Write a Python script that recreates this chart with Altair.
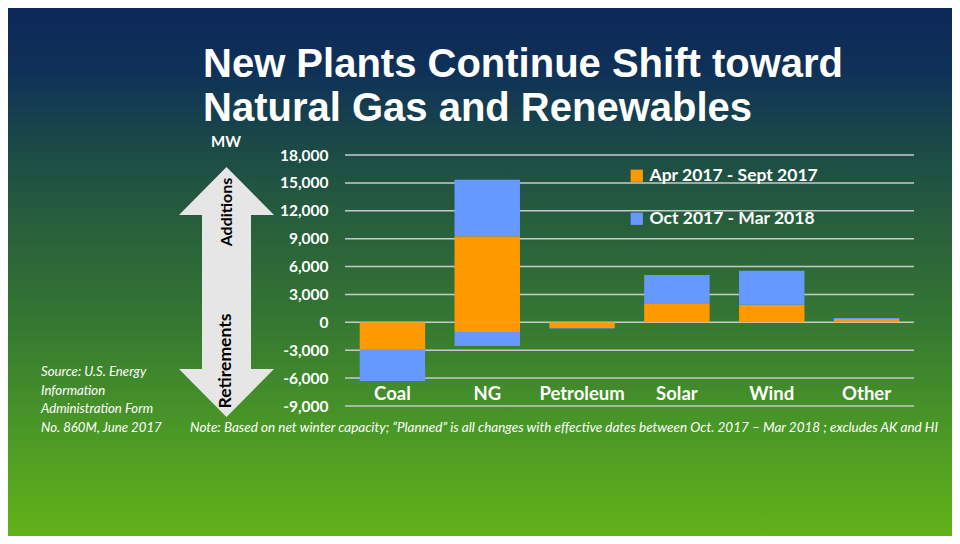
import altair as alt
import pandas as pd

# ---- data ----
categories = ["Coal", "NG", "Petroleum", "Solar", "Wind", "Other"]
periods = ["Apr 2017 - Sept 2017", "Oct 2017 - Mar 2018"]
apr_additions = [0, 9250, 0, 2050, 1900, 350]
apr_retirements = [-2950, -1050, -600, 0, 0, 0]
oct_additions = [0, 6100, 0, 3050, 3650, 120]
oct_retirements = [-3350, -1500, -60, 0, 0, 0]
y_ticks = [-9000, -6000, -3000, 0, 3000, 6000, 9000, 12000, 15000, 18000]
bar_colors = ["#FF9900", "#6699FF"]

title_text = "New Plants Continue Shift toward\nNatural Gas and Renewables"
source_text = ["Source: U.S. Energy", "Information", "Administration Form", "No. 860M, June 2017"]
note_text = ("Note:  Based on net winter capacity; \u201cPlanned\u201d is all changes with effective dates "
             "between Oct. 2017 \u2013 Mar 2018 ; excludes AK and HI")

# ---- table ----
rows = []
for i, c in enumerate(categories):
    for v in (apr_additions[i], apr_retirements[i]):
        if v != 0:
            rows.append({"category": c, "period": periods[0], "value": v, "ord": 0})
    for v in (oct_additions[i], oct_retirements[i]):
        if v != 0:
            rows.append({"category": c, "period": periods[1], "value": v, "ord": 1})
df = pd.DataFrame(rows)
cat_df = pd.DataFrame({"category": categories})
grid_df = pd.DataFrame({"y": y_ticks})

W, H = 569, 251
PL, PT = 337, 147
TOTAL_W, TOTAL_H = 944, 528
FONT = "Lato"

one = pd.DataFrame({"a": [0]})

bg = alt.Chart(one).mark_rect(
    color=alt.Gradient(
        gradient="linear",
        stops=[
            alt.GradientStop(color="#0c2858", offset=0),
            alt.GradientStop(color="#0f3158", offset=0.12),
            alt.GradientStop(color="#1a4848", offset=0.25),
            alt.GradientStop(color="#28603b", offset=0.42),
            alt.GradientStop(color="#367832", offset=0.6),
            alt.GradientStop(color="#4a9826", offset=0.8),
            alt.GradientStop(color="#63b219", offset=1),
        ],
        x1=0, x2=0, y1=0, y2=1,
    )
).encode(
    x=alt.value(-PL), x2=alt.value(TOTAL_W - PL),
    y=alt.value(-PT), y2=alt.value(TOTAL_H - PT),
)

yscale = alt.Scale(domain=[-9000, 18000], nice=False)
xscale = alt.Scale(domain=categories, paddingInner=0.31, paddingOuter=0.155)
yaxis = alt.Axis(values=y_ticks, labelExpr="replace(format(datum.value, ',d'), '\u2212', '-')",
                 title=None, grid=False, domain=False, labelOverlap=False,
                 ticks=False, labelColor="white", labelFont=FONT, labelFontWeight="bold",
                 labelFontSize=15.5, labelPadding=17, zindex=1)

grid = alt.Chart(grid_df).mark_rule(color="#c9c9c9", strokeWidth=1.5).encode(
    y=alt.Y("y:Q", scale=yscale, axis=yaxis),
    x=alt.value(0), x2=alt.value(W),
)

bars = alt.Chart(df).mark_bar().encode(
    x=alt.X("category:N", scale=xscale, axis=None, sort=categories),
    y=alt.Y("value:Q", scale=yscale, stack="zero", axis=yaxis),
    color=alt.Color("period:N", scale=alt.Scale(domain=periods, range=bar_colors),
                    legend=alt.Legend(title=None, orient="none", legendX=283, legendY=12,
                                      symbolType="square", symbolSize=150, symbolStrokeWidth=0,
                                      labelColor="white", labelFont=FONT, labelFontWeight="bold",
                                      labelFontSize=17.5, labelOffset=4, rowPadding=24, padding=0,
                                      labelLimit=400, zindex=1)),
    order=alt.Order("ord:Q"),
)

cat_labels = alt.Chart(cat_df).mark_text(
    color="white", font=FONT, fontWeight="bold", fontSize=18.5, baseline="middle"
).encode(
    x=alt.X("category:N", scale=xscale, sort=categories),
    y=alt.value(239),
    text="category:N",
)

title = alt.Chart(one).mark_text(
    text=title_text.split("\n"), color="white", font="Liberation Sans", fontWeight="bold",
    fontSize=40, align="left", baseline="alphabetic", lineHeight=44,
).encode(x=alt.value(203 - 345), y=alt.value(77 - 155))

mw = alt.Chart(one).mark_text(
    text="MW", color="white", font=FONT, fontWeight="bold", fontSize=15, baseline="middle"
).encode(x=alt.value(226 - 345), y=alt.value(142 - 155))

arrow_path = ("M0,-1 L0.38,-0.616 L0.196,-0.616 L0.196,0.616 L0.38,0.616 L0,1 "
              "L-0.38,0.616 L-0.196,0.616 L-0.196,-0.616 L-0.38,-0.616 Z")
arrow = alt.Chart(one).mark_point(
    shape=arrow_path, filled=True, fill="#e6e6e6", opacity=1, size=62500, strokeWidth=0
).encode(x=alt.value(226.5 - 345), y=alt.value(292 - 155))

additions = alt.Chart(one).mark_text(
    text="Additions", color="black", font=FONT, fontWeight="bold", fontSize=16, angle=270,
    baseline="middle"
).encode(x=alt.value(227 - 345), y=alt.value(212 - 155))

retirements = alt.Chart(one).mark_text(
    text="Retirements", color="black", font=FONT, fontWeight="bold", fontSize=17.5, angle=270,
    baseline="middle"
).encode(x=alt.value(226 - 345), y=alt.value(361 - 155))

source = alt.Chart(one).mark_text(
    text=source_text, color="white", font=FONT, fontStyle="italic", fontSize=13.2,
    align="left", baseline="middle", lineHeight=18.5,
).encode(x=alt.value(41 - 345), y=alt.value(372 - 155))

note = alt.Chart(one).mark_text(
    text=note_text, color="white", font=FONT, fontStyle="italic", fontSize=13.5,
    align="left", baseline="middle",
).encode(x=alt.value(190 - 345), y=alt.value(428 - 155))

chart = alt.layer(
    bg, grid, bars, cat_labels, title, mw, arrow, additions, retirements, source, note
).properties(
    width=W, height=H,
    autosize=alt.AutoSizeParams(type="none"),
    padding={"left": PL, "top": PT, "right": TOTAL_W - PL - W, "bottom": TOTAL_H - PT - H},
    background="#0c2858",
).configure_view(stroke=None)

chart.save("out.html", embed_options={"renderer": "svg", "actions": False})
